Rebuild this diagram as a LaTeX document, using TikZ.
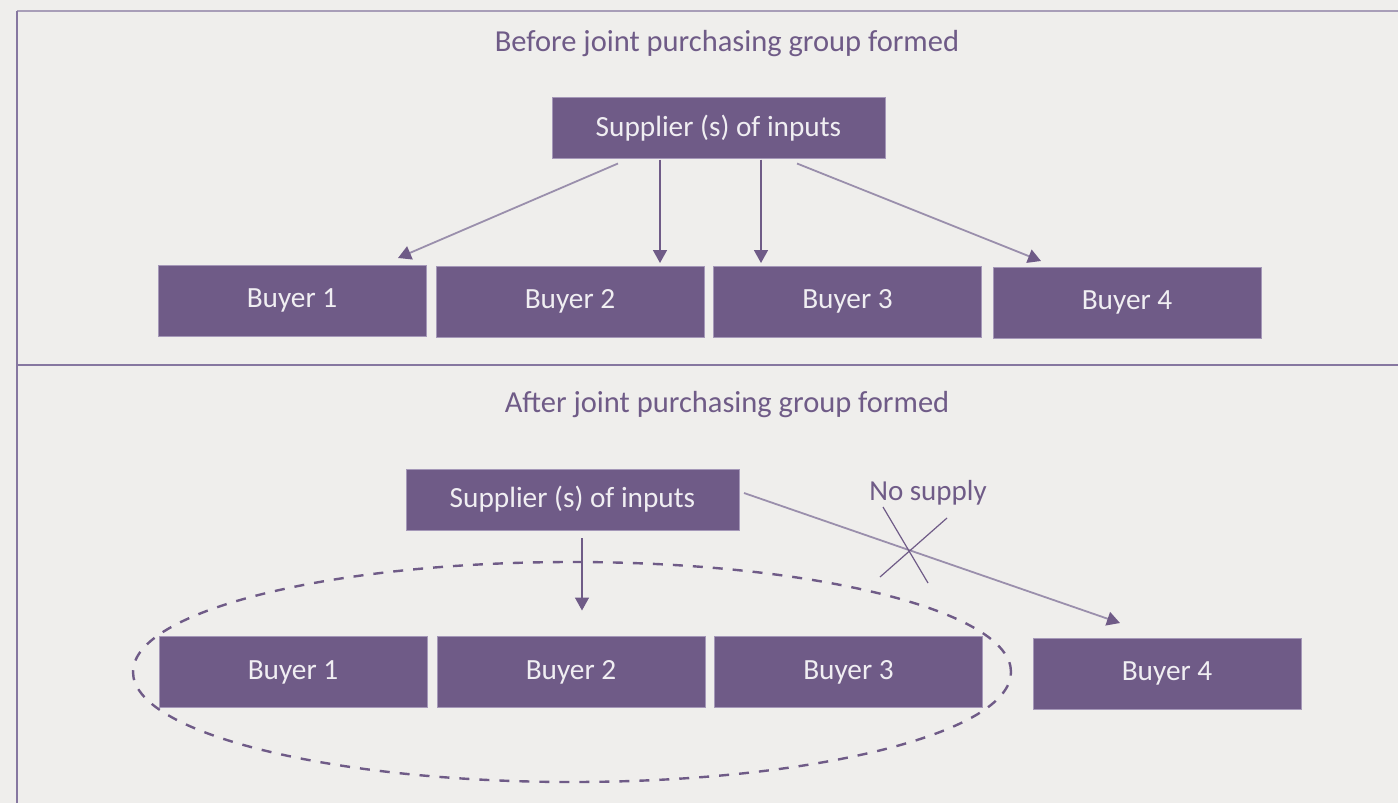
\documentclass[tikz,border=0pt]{standalone}
\usepackage{fontspec}
\setmainfont{Carlito}
\usetikzlibrary{arrows.meta,shapes.geometric}
\definecolor{bg}{HTML}{EFEEEC}
\definecolor{boxp}{HTML}{6F5B87}
\definecolor{boxedge}{HTML}{A598B8}
\definecolor{lightln}{HTML}{9A8FAC}
\definecolor{frameln}{HTML}{8677A0}
\definecolor{frametop}{HTML}{A89EB8}
\definecolor{boxtxt}{HTML}{F0EEF2}
\tikzset{
  box/.style={rectangle, fill=boxp, draw=boxedge, line width=0.6pt, inner sep=0pt, outer sep=0pt,
    text=boxtxt, font=\fontsize{29.3}{32}\selectfont},
  buyer/.style={box, minimum width=268pt, minimum height=71pt},
  supbox/.style={box, minimum width=333pt, minimum height=61pt},
  title/.style={text=boxp, font=\fontsize{30.5}{34}\selectfont, inner sep=0pt},
  lbl/.style={text=boxp, font=\fontsize{29}{32}\selectfont, inner sep=0pt},
  darr/.style={draw=boxp, line width=1.6pt, -{Triangle[width=14pt,length=13pt]}},
  larr/.style={draw=lightln, line width=1.8pt, -{Triangle[width=14pt,length=13pt,color=boxp]}},
  crossln/.style={draw=boxp, line width=1.2pt},
  group/.style={ellipse, draw=boxp, line width=2.4pt, dash pattern=on 10pt off 10pt,
    minimum width=878pt, minimum height=220pt, inner sep=0pt}
}
\begin{document}
\begin{tikzpicture}[x=1pt,y=-1pt]
\useasboundingbox (0,0) rectangle (1398,803);
\fill[bg] (0,0) rectangle (1398,803);
% frame
\draw[frametop, line width=2pt] (17,11) -- (1398,11);
\draw[frameln, line width=1.5pt] (17,11) -- (17,803);
\draw[frameln, line width=1.5pt] (17,365) -- (1398,365);

% top panel
\node[title] (t1) at (727,44) {Before joint purchasing group formed};
\node[supbox] (s1) at (718.5,128) {Supplier (s) of inputs};
\node[buyer] (a1) at (292,300.5) {Buyer 1};
\node[buyer] (a2) at (570,301.5) {Buyer 2};
\node[buyer] (a3) at (847.5,301.5) {Buyer 3};
\node[buyer] (a4) at (1127,302.5) {Buyer 4};
\draw[larr] ([xshift=-100.5pt,yshift=-5pt]s1.south) -- ([xshift=106pt,yshift=7pt]a1.north);
\draw[darr] ([xshift=-58.5pt,yshift=-1pt]s1.south) -- ([xshift=90pt,yshift=3pt]a2.north);
\draw[darr] ([xshift=42.5pt,yshift=-1pt]s1.south) -- ([xshift=-86.5pt,yshift=3pt]a3.north);
\draw[larr] ([xshift=78.5pt,yshift=-5pt]s1.south) -- ([xshift=-86pt,yshift=6pt]a4.north);

% bottom panel
\node[title] (t2) at (727,405) {After joint purchasing group formed};
\node[supbox] (s2) at (572.5,499.5) {Supplier (s) of inputs};
\node[buyer] (c1) at (293,672) {Buyer 1};
\node[buyer] (c2) at (571,672) {Buyer 2};
\node[buyer] (c3) at (848.5,672) {Buyer 3};
\node[buyer] (c4) at (1167,673.5) {Buyer 4};
\node[group] (g) at (572,672) {};
\draw[darr] ([xshift=9.5pt,yshift=-8pt]s2.south) -- ([xshift=11pt,yshift=26pt]c2.north);
\draw[larr] ([xshift=5pt,yshift=6.5pt]s2.east) -- ([xshift=-47pt,yshift=15pt]c4.north);
\node[lbl] (ns) at (928,493) {No supply};
\draw[crossln] (883,507) -- (928,583);
\draw[crossln] (947,518) -- (880,577);
\end{tikzpicture}
\end{document}
